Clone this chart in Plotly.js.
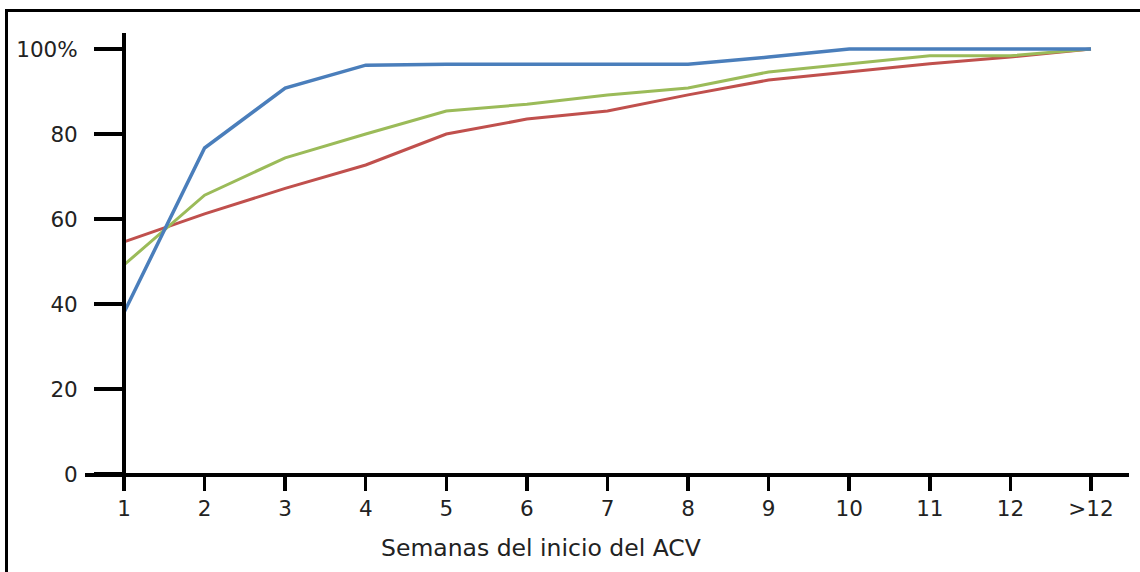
<!DOCTYPE html>
<html>
<head>
<meta charset="utf-8">
<script src="https://cdn.plot.ly/plotly-3.0.1.min.js"></script>
<style>
  html, body { margin: 0; padding: 0; background: #fff; }
  #chart { width: 1140px; height: 572px; position: relative; }
  #frame { position: absolute; left: 5px; top: 9px; width: 1200px; height: 700px;
           border-left: 3px solid #000; border-top: 3px solid #000; pointer-events: none; }
</style>
</head>
<body>
<div id="chart"></div>
<div id="frame"></div>
<script>
const categories = ["1","2","3","4","5","6","7","8","9","10","11","12",">12"];
const serieAzul  = [38, 76.7, 90.8, 96.2, 96.4, 96.4, 96.4, 96.4, 98.1, 100, 100, 100, 100];
const serieVerde = [49.2, 65.6, 74.4, 80, 85.4, 87, 89.2, 90.8, 94.6, 96.5, 98.4, 98.4, 100];
const serieRoja  = [54.6, 61.2, 67.2, 72.7, 80, 83.5, 85.4, 89.2, 92.7, 94.6, 96.5, 98.1, 100];
const yTickVals  = [0, 20, 40, 60, 80, 100];
const yTickText  = ["0", "20", "40", "60", "80", "100%"];
const xTitle = "Semanas del inicio del ACV";

const traces = [
  { x: categories, y: serieRoja,  mode: "lines", line: { color: "#C0504D", width: 3 }, name: "rojo" },
  { x: categories, y: serieVerde, mode: "lines", line: { color: "#9BBB59", width: 3 }, name: "verde" },
  { x: categories, y: serieAzul,  mode: "lines", line: { color: "#4A7EBB", width: 3.5 }, name: "azul" }
];

const tickFont = { family: "DejaVu Sans", size: 21.5, color: "#222" };

const layout = {
  width: 1140, height: 572,
  margin: { l: 85, r: 11, t: 33, b: 82 },
  paper_bgcolor: "rgba(0,0,0,0)",
  plot_bgcolor: "rgba(0,0,0,0)",
  showlegend: false,
  xaxis: {
    type: "category",
    range: [-0.484, 12.472],
    anchor: "free", position: 0.035,
    showgrid: false, zeroline: false,
    showline: true, linecolor: "#000", linewidth: 3.5,
    ticks: "outside", ticklen: 14, tickwidth: 3.5, tickcolor: "#000",
    tickfont: tickFont,
    ticklabelstandoff: 0
  },
  yaxis: {
    range: [-3.76, 103.76],
    anchor: "free", position: 0.0374,
    showgrid: false, zeroline: false,
    showline: true, linecolor: "#000", linewidth: 4,
    ticks: "outside", ticklen: 28, tickwidth: 3.5, tickcolor: "#000",
    tickvals: yTickVals, ticktext: yTickText,
    tickfont: tickFont,
    ticklabelstandoff: 12
  },
  annotations: [{
    text: xTitle, xref: "paper", yref: "paper",
    x: 0.437, y: -0.127, xanchor: "center", yanchor: "middle",
    showarrow: false,
    font: { family: "DejaVu Sans", size: 23.5, color: "#222" }
  }]
};

Plotly.newPlot("chart", traces, layout, { displayModeBar: false, staticPlot: true });
</script>
</body>
</html>
